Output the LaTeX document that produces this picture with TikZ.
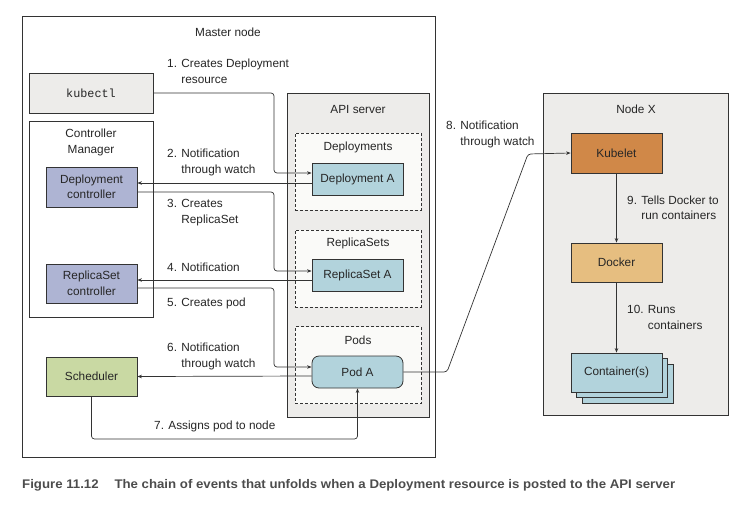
\documentclass[tikz,border=0pt]{standalone}
\usepackage{fontspec}
\setmainfont{Liberation Sans}
\setmonofont{Liberation Mono}
\usepackage{tikz}
\usetikzlibrary{arrows.meta}
\definecolor{panel}{HTML}{EDECEA}
\definecolor{dashfill}{HTML}{FAFAF8}
\definecolor{ctlblue}{HTML}{AEB4D3}
\definecolor{resblue}{HTML}{B2D3DC}
\definecolor{schedgreen}{HTML}{C9D9A3}
\definecolor{kubeorange}{HTML}{D08848}
\definecolor{dockertan}{HTML}{E6BE80}
\definecolor{ink}{HTML}{333333}
\tikzstyle{frame} = [rectangle, draw=ink, line width=0.8pt, inner sep=0pt]
\tikzstyle{group} = [rectangle, draw=ink, dash pattern=on 3pt off 2pt,
                 line width=0.7pt, fill=dashfill, inner sep=0pt]
\tikzstyle{box} = [rectangle, draw=ink, line width=0.8pt, align=center,
                 inner sep=0pt, minimum width=91pt, minimum height=40pt]
\tikzstyle{flow} = [draw=ink, line width=0.7pt, rounded corners=3pt,
                 -{Stealth[length=4.5pt,width=3.5pt]}]
\tikzstyle{note} = [anchor=west, align=left, inner sep=0pt]

\begin{document}
\begin{tikzpicture}[x=1pt, y=-1pt, font=\fontsize{11.8}{15.5}\selectfont, text=black!85]
\useasboundingbox (0,0) rectangle (754,512);

% outer frames
\node [frame, fill=white, minimum width=413pt, minimum height=441pt] (master) at (228.5,236.5) {};
\node at (228,32) (mastertitle) {Master node};
\node [frame, fill=panel, minimum width=124pt, minimum height=40pt] (kubectl) at (91,93) {\ttfamily kubectl};
\node [frame, minimum width=124pt, minimum height=196pt] (ctlmgr) at (91,219) {};
\node [align=center] at (91,142.5) (ctlmgrtitle) {Controller\\Manager};
\node [frame, fill=panel, minimum width=142pt, minimum height=324pt] (apisrv) at (358,255) {};
\node at (358,109) (apititle) {API server};
\node [frame, fill=panel, minimum width=185pt, minimum height=322pt] (nodex) at (635.5,254) {};
\node at (636,109) (nodextitle) {Node X};

% resource groups
\foreach \name/\y/\title/\ty in {deps/171.5/Deployments/147, rss/268.5/ReplicaSets/243, pods/365/Pods/340}{
    \node [group, minimum width=126pt, minimum height=77pt] (\name) at (358,\y) {};
    \node at (358,\ty) {\title};
}

% components
\node [box, fill=ctlblue] (depctl) at (91.5,187) {Deployment\\controller};
\node [box, fill=ctlblue, minimum height=39pt] (rsctl) at (91.5,283.5) {ReplicaSet\\controller};
\node [box, fill=schedgreen, minimum height=39pt] (sched) at (91.5,376.5) {Scheduler};
\node [box, fill=resblue, minimum height=32pt] (depA) at (357.5,179) {Deployment A};
\node [box, fill=resblue, minimum height=32pt] (rsA) at (357.5,275) {ReplicaSet A};
\node [box, fill=resblue, minimum height=32pt, rounded corners=7pt] (podA) at (357.5,372) {Pod A};
\node [box, fill=kubeorange] (kubelet) at (616.5,153) {Kubelet};
\node [box, fill=dockertan, minimum height=39pt] (docker) at (616.5,262.5) {Docker};
\node [box, fill=resblue, minimum height=39pt] (cont3) at (627.5,383.5) {};
\node [box, fill=resblue, minimum height=39pt] (cont2) at (622,378) {};
\node [box, fill=resblue, minimum height=39pt] (cont) at (616.5,372.5) {Container(s)};

% chain of events
\draw[flow] (kubectl.east) -| (274,173) -- ([yshift=6pt]depA.west);
\draw[flow] ([yshift=-4pt]depA.west) -- ([yshift=4pt]depctl.east);
\draw[flow] ([yshift=-5pt]depctl.east) -| (274,271) -- ([yshift=4pt]rsA.west);
\draw[flow] ([yshift=-5pt]rsA.west) -- ([yshift=3.5pt]rsctl.east);
\draw[flow] ([yshift=-4.5pt]rsctl.east) -| (274,367) -- ([yshift=5pt]podA.west);
\draw[flow] ([yshift=-4pt]podA.west) -- (sched.east);
\draw[flow] (sched.south) |- (357.5,439) -- (podA.south);
\draw[flow] (podA.east) -- (447,372) -- (528,154) -- (kubelet.west);
\draw[flow] (kubelet) -- (docker);
\draw[flow] (docker) -- (cont);

% step labels
\node [note] at (167,71.5) (l1) {1. Creates Deployment\\\phantom{1. }resource};
\node [note] at (167,162.5) (l2) {2. Notification\\\phantom{2. }through watch};
\node [note] at (167,212.5) (l3) {3. Creates\\\phantom{3. }ReplicaSet};
\node [note] at (167,267) (l4) {4. Notification};
\node [note] at (167,303) (l5) {5. Creates pod};
\node [note] at (167,356.5) (l6) {6. Notification\\\phantom{6. }through watch};
\node [note] at (154,426) (l7) {7. Assigns pod to node};
\node [note] at (446,134.5) (l8) {8. Notification\\\phantom{8. }through watch};
\node [note] at (627,208) (l9) {9. Tells Docker to\\\phantom{9. }run containers};
\node [note] at (627,317.5) (l10) {10. Runs\\\phantom{10. }containers};

% caption
\node [anchor=west, inner sep=0pt, text=black!70] at (22,485) (caption)
    {\resizebox{653pt}{\height}{\fontsize{12.5}{14}\selectfont\bfseries Figure 11.12\hspace{1.2em}The chain of events that unfolds when a Deployment resource is posted to the API server}};
\end{tikzpicture}
\end{document}
